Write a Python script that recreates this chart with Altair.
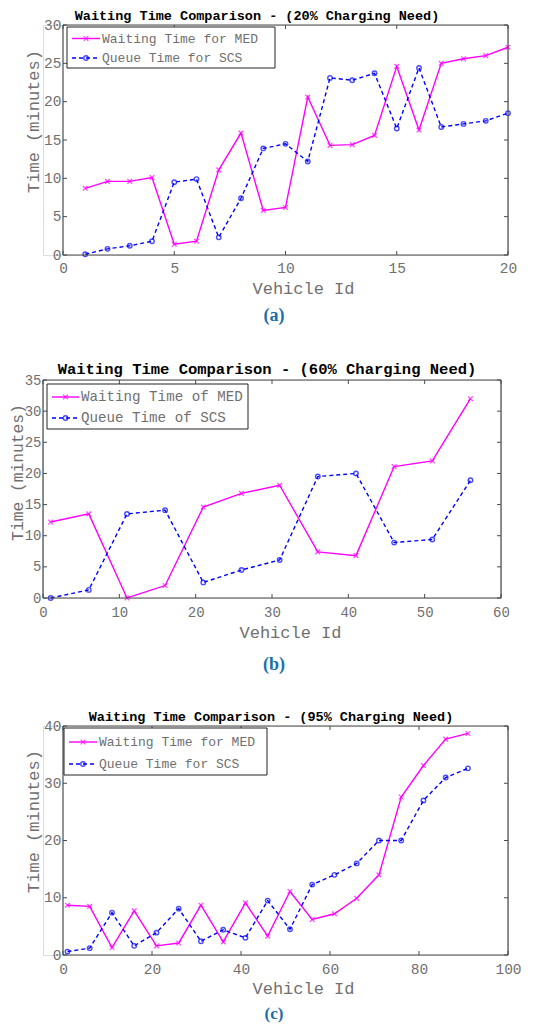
import altair as alt
import pandas as pd

# ---------------- data ----------------
ids_a = list(range(1, 21))
med_a = [8.7, 9.6, 9.6, 10.1, 1.4, 1.8, 11.1, 15.9, 5.8, 6.2,
         20.6, 14.3, 14.4, 15.6, 24.6, 16.3, 25.0, 25.6, 26.0, 27.1]
scs_a = [0.1, 0.8, 1.2, 1.8, 9.5, 9.9, 2.3, 7.4, 13.9, 14.5,
         12.2, 23.1, 22.8, 23.7, 16.5, 24.4, 16.7, 17.1, 17.5, 18.5]

ids_b = [1, 6, 11, 16, 21, 26, 31, 36, 41, 46, 51, 56]
med_b = [12.2, 13.5, 0.0, 2.0, 14.6, 16.8, 18.1, 7.4, 6.8, 21.1, 22.0, 32.0]
scs_b = [0.0, 1.3, 13.5, 14.1, 2.5, 4.5, 6.1, 19.5, 20.0, 8.9, 9.4, 18.9]

ids_c = [1, 6, 11, 16, 21, 26, 31, 36, 41, 46, 51, 56, 61, 66, 71, 76, 81, 86, 91]
med_c = [8.7, 8.5, 1.3, 7.7, 1.6, 2.1, 8.7, 2.3, 9.1, 3.3,
         11.1, 6.2, 7.2, 9.9, 14.0, 27.6, 33.1, 37.7, 38.7]
scs_c = [0.6, 1.2, 7.4, 1.6, 3.9, 8.1, 2.4, 4.4, 3.0, 9.5,
         4.5, 12.3, 14.0, 16.0, 20.0, 20.0, 27.0, 31.0, 32.6]

xticks_a = [0, 5, 10, 15, 20]
yticks_a = [0, 5, 10, 15, 20, 25, 30]
xticks_b = [0, 10, 20, 30, 40, 50, 60]
yticks_b = [0, 5, 10, 15, 20, 25, 30, 35]
xticks_c = [0, 20, 40, 60, 80, 100]
yticks_c = [0, 10, 20, 30, 40]

title_a = "Waiting Time Comparison - (20% Charging Need)"
title_b = "Waiting Time Comparison - (60% Charging Need)"
title_c = "Waiting Time  Comparison - (95% Charging Need)"
legend_a = ["Waiting Time for MED", "Queue Time for SCS"]
legend_b = ["Waiting Time of MED", "Queue Time of SCS"]
legend_c = ["Waiting Time for MED", "Queue Time for SCS"]
captions = ["(a)", "(b)", "(c)"]

# ---------------- style ----------------
MONO = "Liberation Mono"
SERIF = "Liberation Serif"
LABEL_GRAY = "#707070"
FRAME = "#4a4a4a"
MAGENTA = "#ff00ff"
BLUE = "#0000ff"
CAPTION = "#1b6fa8"
XSHAPE = "M-1,-1L1,1M-1,1L1,-1"


def one(value):
    return pd.DataFrame({"t": [value]})


def panel(ids, med, scs, dx, pw, h, xdom, xticks, ydom, yticks, title, title_cfg,
          leg_labels, leg_cfg, caption, cap_cfg, ext, axis_cfg):
    # dx: horizontal offset of the plot frame inside the panel group
    left_ext, top_ext, bottom_ext = ext
    gw = dx + pw
    df = pd.DataFrame({"id": ids, "med": med, "scs": scs})
    (tick_font, x_title_font, lab_pad, x_title_x, x_title_y,
     y_title_font, y_title_x, y_title_y) = axis_cfg

    xs = alt.Scale(domain=xdom, nice=False, zero=False, range=[dx, dx + pw])
    ys = alt.Scale(domain=ydom, nice=False, zero=False)
    xaxis = alt.Axis(values=xticks, ticks=False, domain=False, grid=False,
                     labelFont=MONO, labelFontSize=tick_font, labelColor=LABEL_GRAY,
                     labelPadding=lab_pad, labelFlush=False, labelOverlap=False,
                     title="Vehicle Id", titleFont=MONO, titleFontSize=x_title_font,
                     titleFontWeight="normal", titleColor=LABEL_GRAY,
                     titleX=dx + x_title_x, titleY=x_title_y, titleBaseline="middle",
                     titleAnchor="start", titleAlign="center")
    yaxis = alt.Axis(values=yticks, ticks=False, domain=False, grid=False,
                     labelFont=MONO, labelFontSize=tick_font, labelColor=LABEL_GRAY,
                     labelPadding=2, labelFlush=False, labelOverlap=False,
                     offset=-dx,
                     title="Time (minutes)", titleFont=MONO, titleFontSize=y_title_font,
                     titleFontWeight="normal", titleColor=LABEL_GRAY,
                     titleX=y_title_x, titleY=y_title_y, titleAngle=270,
                     titleBaseline="middle", titleAlign="center")

    def X(field):
        return alt.X(field, scale=xs, axis=xaxis)

    def Y(field):
        return alt.Y(field, scale=ys, axis=yaxis)

    base = alt.Chart(df)
    med_line = base.mark_line(color=MAGENTA, strokeWidth=1.4).encode(
        x=X("id:Q"), y=Y("med:Q"))
    med_pts = base.mark_point(shape=XSHAPE, color=MAGENTA, filled=False,
                              size=22, strokeWidth=1.3).encode(
        x=X("id:Q"), y=Y("med:Q"))
    scs_line = base.mark_line(color=BLUE, strokeWidth=1.4, strokeDash=[4, 3]).encode(
        x=X("id:Q"), y=Y("scs:Q"))
    scs_pts = base.mark_point(shape="circle", color=BLUE, filled=False,
                              size=20, strokeWidth=1.4).encode(
        x=X("id:Q"), y=Y("scs:Q"))

    # frame drawn as four rules
    f = alt.Chart(one(0))
    frame = [
        f.mark_rule(color=FRAME, strokeWidth=1.2).encode(
            x=alt.value(dx), x2=alt.value(dx + pw), y=alt.value(0)),
        f.mark_rule(color=FRAME, strokeWidth=1.2).encode(
            x=alt.value(dx), x2=alt.value(dx + pw), y=alt.value(h)),
        f.mark_rule(color=FRAME, strokeWidth=1.2).encode(
            x=alt.value(dx), y=alt.value(0), y2=alt.value(h)),
        f.mark_rule(color=FRAME, strokeWidth=1.2).encode(
            x=alt.value(dx + pw), y=alt.value(0), y2=alt.value(h)),
    ]

    # inward tick marks on all four sides
    tl = 4
    xt = alt.Chart(pd.DataFrame({"v": xticks}))
    yt = alt.Chart(pd.DataFrame({"v": yticks}))
    tick_layers = [
        xt.mark_rule(color=FRAME, strokeWidth=1).encode(
            x=X("v:Q"), y=alt.value(h), y2=alt.value(h - tl)),
        xt.mark_rule(color=FRAME, strokeWidth=1).encode(
            x=X("v:Q"), y=alt.value(0), y2=alt.value(tl)),
        yt.mark_rule(color=FRAME, strokeWidth=1).encode(
            y=Y("v:Q"), x=alt.value(dx), x2=alt.value(dx + tl)),
        yt.mark_rule(color=FRAME, strokeWidth=1).encode(
            y=Y("v:Q"), x=alt.value(dx + pw), x2=alt.value(dx + pw - tl)),
    ]

    # legend box
    bx0, bx1, by0, by1, lx0, lx1, tx, r1, r2, lfs = leg_cfg
    lg = [
        alt.Chart(one(0)).mark_rect(fill="white", stroke="#222222", strokeWidth=1).encode(
            x=alt.value(dx + bx0), x2=alt.value(dx + bx1), y=alt.value(by0), y2=alt.value(by1)),
        alt.Chart(one(0)).mark_rule(color=MAGENTA, strokeWidth=1.4).encode(
            x=alt.value(dx + lx0), x2=alt.value(dx + lx1), y=alt.value(r1)),
        alt.Chart(one(0)).mark_point(shape=XSHAPE, color=MAGENTA, filled=False,
                                     size=22, strokeWidth=1.3).encode(
            x=alt.value(dx + (lx0 + lx1) / 2), y=alt.value(r1)),
        alt.Chart(one(0)).mark_rule(color=BLUE, strokeWidth=1.4, strokeDash=[4, 3]).encode(
            x=alt.value(dx + lx0), x2=alt.value(dx + lx1), y=alt.value(r2)),
        alt.Chart(one(0)).mark_point(shape="circle", color=BLUE, filled=False,
                                     size=20, strokeWidth=1.4).encode(
            x=alt.value(dx + (lx0 + lx1) / 2), y=alt.value(r2)),
        alt.Chart(one(leg_labels[0])).mark_text(
            font=MONO, fontSize=lfs, color=LABEL_GRAY, align="left", baseline="middle").encode(
            text="t:N", x=alt.value(dx + tx), y=alt.value(r1)),
        alt.Chart(one(leg_labels[1])).mark_text(
            font=MONO, fontSize=lfs, color=LABEL_GRAY, align="left", baseline="middle").encode(
            text="t:N", x=alt.value(dx + tx), y=alt.value(r2)),
    ]

    tx_c, ty_c, tfs = title_cfg
    title_layer = alt.Chart(one(title)).mark_text(
        font=MONO, fontSize=tfs, fontWeight="bold", color="#000000",
        align="center", baseline="middle").encode(
        text="t:N", x=alt.value(dx + tx_c), y=alt.value(ty_c))

    cx, cy, cfs = cap_cfg
    cap_layer = alt.Chart(one(caption)).mark_text(
        font=SERIF, fontSize=cfs, fontWeight="bold", color=CAPTION,
        align="center", baseline="middle").encode(
        text="t:N", x=alt.value(dx + cx), y=alt.value(cy))

    bounds_layer = alt.Chart(one(0)).mark_rule(opacity=0, strokeWidth=0.1).encode(
        x=alt.value(-left_ext), x2=alt.value(0),
        y=alt.value(-top_ext), y2=alt.value(h + bottom_ext))

    return alt.layer(
        med_line, scs_line, med_pts, scs_pts, *frame, *tick_layers,
        *lg, title_layer, cap_layer, bounds_layer
    ).properties(width=gw, height=h)


# common group origin at page x = 42; panels a and c are shifted 20 px inside
pa = panel(ids_a, med_a, scs_a, 20, 445, 230, [0, 20], xticks_a, [0, 30], yticks_a,
           title_a, (194, -9, 13.5),
           legend_a, (4, 212, 2, 43, 9, 37, 39, 13.5, 33, 13),
           captions[0], (211, 291, 18),
           (34, 16, 78),
           (14.5, 17, 6, 240, 33, 17, -30, 96))

pb = panel(ids_b, med_b, scs_b, 0, 458, 218, [0, 60], xticks_b, [0, 35], yticks_b,
           title_b, (224, -11, 15.5),
           legend_b, (4, 205, 4, 49, 9, 36, 38, 17, 38, 14.2),
           captions[1], (231, 285, 18),
           (34, 45, 75),
           (14, 17, 7, 247, 34, 16.3, -26, 92))

pc = panel(ids_c, med_c, scs_c, 20, 445, 229, [0, 100], xticks_c, [0, 40], yticks_c,
           title_c, (208, -9, 13.5),
           legend_c, (1, 204, 2, 49, 6, 34, 36, 16, 38, 13),
           captions[2], (211, 288, 17),
           (34, 50, 67),
           (14.5, 17, 7, 240, 33, 17, -30, 95))

chart = alt.concat(pa, pb, pc, columns=1, align="none", spacing=0).properties(
    padding=0
).configure_view(stroke="transparent", strokeWidth=0).configure(background="white")

chart.save("out.html", embed_options={"renderer": "svg", "actions": False})
